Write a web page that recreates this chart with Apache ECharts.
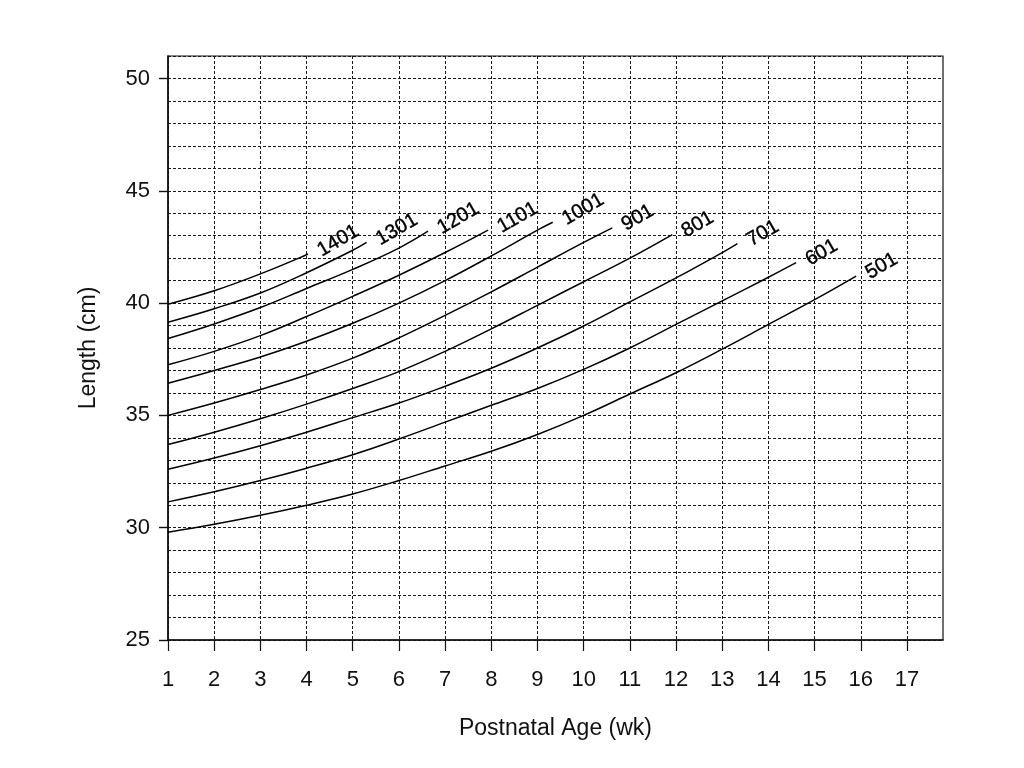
<!DOCTYPE html>
<html>
<head>
<meta charset="utf-8">
<script src="https://cdn.jsdelivr.net/npm/echarts@6/dist/echarts.min.js"></script>
<style>
html,body{margin:0;padding:0;background:#fff;}
#chart{width:1024px;height:768px;}
</style>
</head>
<body>
<div id="chart"></div>
<script>
// Birth-weight groups (curve labels)
const groups = ['1401', '1301', '1201', '1101', '1001', '901', '801', '701', '601', '501'];
// Length (cm) at integer postnatal weeks, starting at week 1
const len1401 = [39.95, 40.55, 41.3, 42.15];
const len1301 = [39.15, 39.75, 40.45, 41.35, 42.35];
const len1201 = [38.42, 39.07, 39.8, 40.65, 41.5, 42.45];
const len1101 = [37.25, 37.85, 38.55, 39.4, 40.3, 41.24, 42.25];
const len1001 = [36.43, 37.0, 37.6, 38.3, 39.1, 40.0, 41.0, 42.1, 43.25];
const len901  = [35.0, 35.55, 36.15, 36.8, 37.55, 38.45, 39.45, 40.5, 41.6, 42.7];
const len801  = [33.7, 34.25, 34.85, 35.5, 36.2, 36.95, 37.85, 38.85, 39.9, 40.95, 42.0];
const len701  = [32.6, 33.1, 33.65, 34.25, 34.9, 35.55, 36.3, 37.1, 38.0, 38.98, 40.05, 41.12, 42.25];
const len601  = [31.15, 31.6, 32.1, 32.65, 33.25, 33.95, 34.7, 35.45, 36.2, 37.05, 38.0, 39.05, 40.1, 41.15];
const len501  = [29.8, 30.15, 30.55, 31.0, 31.5, 32.1, 32.75, 33.4, 34.15, 35.0, 35.95, 36.9, 37.95, 39.05, 40.15];
// Where each curve ends (week, length)
const endWeeks   = [4.03, 5.3, 6.63, 7.93, 9.33, 10.62, 11.92, 13.33, 14.6, 15.9];
const endLengths = [42.2, 42.7, 43.2, 43.25, 43.6, 43.35, 43.05, 42.65, 41.8, 41.2];
// Axis ticks
const xTicks = [1, 2, 3, 4, 5, 6, 7, 8, 9, 10, 11, 12, 13, 14, 15, 16, 17];
const yTicks = [25, 30, 35, 40, 45, 50];

const curves = [len1401, len1301, len1201, len1101, len1001, len901, len801, len701, len601, len501];

const FONT = 'Liberation Sans, Arial, Helvetica, sans-serif';

const series = curves.map((vals, i) => {
  const data = vals.map((v, k) => [k + 1, v]);
  data.push([endWeeks[i], endLengths[i]]);
  return {
    type: 'line',
    name: groups[i],
    data: data,
    smooth: 0.4,
    symbol: 'none',
    silent: true,
    lineStyle: { color: '#000', width: 1.5 },
    z: 5
  };
});

// Curve labels at the end of each curve
series.push({
  type: 'scatter',
  name: 'labels',
  silent: true,
  symbol: 'circle',
  symbolSize: 0,
  itemStyle: { color: '#000' },
  data: endWeeks.map((w, i) => ({ value: [w, endLengths[i]], name: groups[i] })),
  label: {
    show: true,
    formatter: p => p.name,
    position: 'right',
    distance: 12,
    offset: [0, -2],
    rotate: 30,
    color: '#000',
    opacity: 1,
    textBorderColor: '#000',
    textBorderWidth: 0.4,
    fontSize: 20,
    fontFamily: FONT
  },
  z: 6
});

const chart = echarts.init(document.getElementById('chart'), null, { renderer: 'canvas' });
chart.setOption({
  animation: false,
  backgroundColor: '#fff',
  grid: {
    left: 168, right: 81, top: 56, bottom: 128,
    show: true, borderColor: '#111', borderWidth: 1.2, backgroundColor: 'transparent'
  },
  xAxis: {
    type: 'value',
    min: 1, max: 17.78, interval: 1,
    name: 'Postnatal Age (wk)',
    nameLocation: 'middle',
    nameGap: 77,
    nameTextStyle: { color: '#111', fontSize: 23, fontFamily: FONT },
    axisLine: { show: true, onZero: false, lineStyle: { color: '#111', width: 1.6 } },
    axisTick: { show: true, length: 11, lineStyle: { color: '#111', width: 1.2 }, customValues: xTicks },
    axisLabel: { color: '#111', fontSize: 22, fontFamily: FONT, margin: 29, customValues: xTicks },
    splitLine: { show: true, lineStyle: { color: '#1a1a1a', width: 1, type: [3, 2] } }
  },
  yAxis: [
    {
      type: 'value',
      min: 25, max: 51, interval: 1,
      position: 'left',
      name: 'Length (cm)',
      nameLocation: 'middle',
      nameGap: 68,
      nameTextStyle: { color: '#111', fontSize: 23, fontFamily: FONT },
      axisLine: { show: true, onZero: false, lineStyle: { color: '#111', width: 1.6 } },
      axisTick: { show: false },
      axisLabel: { show: false },
      splitLine: { show: true, lineStyle: { color: '#1a1a1a', width: 1, type: [3, 2] } }
    },
    {
      type: 'value',
      min: 25, max: 51, interval: 5,
      position: 'left',
      offset: 0,
      axisLine: { show: false },
      axisTick: { show: true, length: 9, lineStyle: { color: '#111', width: 1.4 }, customValues: yTicks },
      axisLabel: { color: '#111', fontSize: 22, fontFamily: FONT, margin: 18, customValues: yTicks },
      splitLine: { show: false }
    }
  ],
  series: series
});
</script>
</body>
</html>
